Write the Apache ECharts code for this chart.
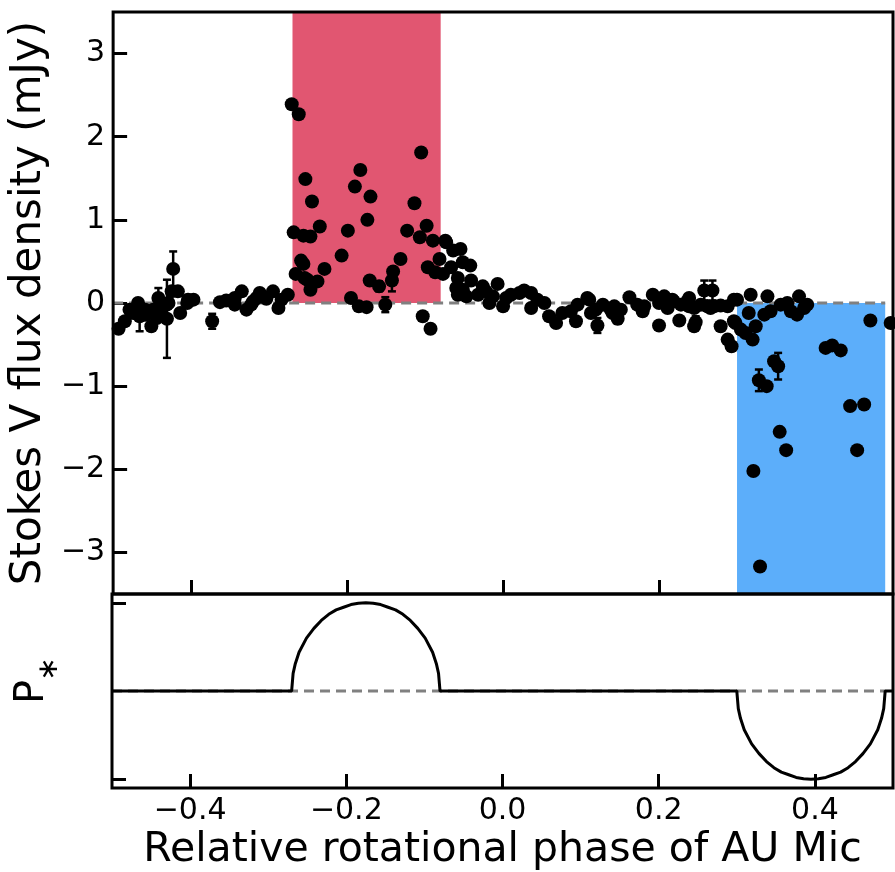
<!DOCTYPE html>
<html><head><meta charset="utf-8">
<script src="https://cdn.jsdelivr.net/npm/echarts@6/dist/echarts.min.js"></script>
<style>html,body{margin:0;padding:0;background:#fff}#c{width:895px;height:872px}</style>
</head><body><div id="c"></div>
<script>
// ---- data ----
const phase = [
 -0.493,-0.485,-0.479,-0.474,-0.472,-0.468,-0.466,-0.459,-0.459,-0.453,-0.451,-0.4485,-0.444,-0.442,-0.440,-0.440,
 -0.431,-0.431,-0.429,-0.425,-0.423,-0.417,-0.414,-0.405,-0.404,-0.397,-0.373,-0.363,-0.355,-0.344,-0.344,-0.335,
 -0.329,-0.3205,-0.323,-0.316,-0.312,-0.3035,-0.295,-0.288,-0.284,-0.276,
 -0.266,-0.271,-0.262,-0.2535,-0.245,-0.235,-0.2685,-0.256,-0.247,-0.259,-0.256,-0.2545,-0.251,-0.238,-0.229,-0.247,
 -0.207,-0.199,-0.183,-0.190,-0.170,-0.174,-0.195,-0.185,-0.175,-0.171,-0.159,
 -0.105,-0.1136,-0.123,-0.098,-0.1067,-0.090,-0.074,-0.1315,-0.0815,-0.0965,-0.087,-0.077,-0.141,-0.1425,-0.151,-0.103,-0.093,
 -0.073,-0.064,-0.0546,-0.0516,-0.042,-0.0666,-0.058,-0.041,-0.0516,-0.060,-0.058,-0.047,-0.032,-0.026,-0.022,-0.007,
 -0.013,-0.0175,0.000,0.010,0.004,0.021,0.027,0.036,0.036,0.044,0.053,0.059,0.068,0.076,0.087,0.0956,0.0935,
 0.108,0.1105,0.1127,0.119,0.121,0.128,0.138,0.1405,0.1426,0.147,0.151,0.162,0.172,0.179,0.181,0.192,0.200,0.200,
 0.2066,0.209,0.211,0.217,0.219,0.226,0.228,0.236,0.2386,0.2386,0.245,0.247,0.245,0.2535,0.258,0.2685,0.262,0.266,
 0.2706,0.279,0.279,0.288,0.288,0.293,0.296,0.296,0.298,0.300,
 0.305,0.311,0.320,0.3175,0.324,0.315,0.339,0.335,0.343,0.356,0.3645,0.369,0.377,0.3795,0.386,0.390,0.471,0.497,
 0.4136,0.422,0.433,0.3475,0.3527,0.328,0.338,0.445,0.463,0.3547,0.363,0.454,0.321,0.3295
];
const stokesV = [
 -0.31,-0.22,-0.08,-0.12,-0.10,0.00,-0.16,-0.08,-0.14,-0.12,-0.28,-0.08,-0.18,0.06,-0.08,-0.14,
 -0.19,-0.02,0.00,0.14,0.41,0.14,-0.12,0.00,0.04,0.04,-0.22,0.01,0.03,0.06,-0.02,0.14,
 -0.08,0.02,-0.02,0.06,0.12,0.05,0.14,-0.06,0.04,0.10,
 0.35,2.39,2.27,1.49,1.22,0.92,0.85,0.81,0.80,0.51,0.47,0.30,0.28,0.26,0.41,0.16,
 0.57,0.87,1.60,1.40,1.28,1.00,0.06,-0.04,-0.05,0.27,0.20,
 1.81,1.20,0.87,0.93,0.79,0.75,0.75,0.53,0.53,0.43,0.37,0.35,0.38,0.27,-0.02,-0.16,-0.31,
 0.73,0.63,0.65,0.49,0.45,0.43,0.30,0.27,0.16,0.18,0.10,0.08,0.10,0.20,0.14,0.23,
 0.08,0.00,-0.04,0.10,0.06,0.12,0.15,0.12,-0.06,0.04,0.00,-0.16,-0.24,-0.12,-0.10,-0.02,-0.22,
 0.06,0.04,-0.12,-0.08,-0.27,-0.02,-0.08,-0.12,-0.04,-0.19,-0.08,0.07,-0.02,-0.10,-0.04,0.10,-0.27,0.00,
 0.08,0.05,-0.06,0.04,0.02,-0.21,-0.02,0.02,0.06,-0.04,-0.06,-0.23,-0.28,-0.02,0.15,0.15,-0.04,-0.06,
 -0.04,-0.03,-0.28,-0.04,-0.44,-0.52,-0.22,0.04,-0.24,0.04,
 -0.32,-0.36,-0.44,0.10,-0.28,-0.12,0.08,-0.14,-0.10,-0.02,0.00,-0.10,-0.14,0.08,-0.06,-0.02,-0.21,-0.24,
 -0.54,-0.51,-0.57,-0.70,-0.76,-0.93,-1.00,-1.24,-1.22,-1.55,-1.77,-1.77,-2.02,-3.17
];
// visible error bars (phase, centre, half length)
const errPhase = [-0.466,-0.442,-0.431,-0.423,-0.373,-0.159,-0.1425,-0.151,0.121,0.147,0.2386,0.247,0.258,0.2685,0.3527,0.328];
const errV     = [-0.16, 0.06, -0.19, 0.41, -0.22, 0.20, 0.27, -0.02, -0.27, -0.19, -0.04, -0.23, 0.15, 0.15, -0.76, -0.93];
const errHalf  = [0.18, 0.12, 0.47, 0.21, 0.09, 0.06, 0.13, 0.09, 0.09, 0.06, 0.05, 0.07, 0.12, 0.12, 0.16, 0.13];
// shaded phase windows
const redSpan = [-0.27, -0.08];
const blueSpan = [0.30, 0.49];
// tick labels
const xTicks = [-0.4, -0.2, 0.0, 0.2, 0.4];
const yTicks = [-3, -2, -1, 0, 1, 2, 3];
const pTicks = [-1, 1];
// model P* curve
const modelPhase = [-0.5,-0.27,-0.2681,-0.2653,-0.2605,-0.251,-0.2415,-0.232,-0.2225,-0.213,-0.2035,-0.194,-0.1845,-0.175,
 -0.1655,-0.156,-0.1465,-0.137,-0.1275,-0.118,-0.1085,-0.099,-0.0895,-0.0847,-0.0819,-0.08,
 0.30,0.3019,0.3047,0.3095,0.319,0.3285,0.338,0.3475,0.357,0.3665,0.376,0.3855,0.395,
 0.4045,0.414,0.4235,0.433,0.4425,0.452,0.4615,0.471,0.4805,0.4853,0.4881,0.49,0.5];
const modelP = [0,0,0.20,0.31,0.44,0.60,0.71,0.80,0.87,0.92,0.95,0.98,0.995,1.0,
 0.995,0.98,0.95,0.92,0.87,0.80,0.71,0.60,0.44,0.31,0.20,0,
 0,-0.20,-0.31,-0.44,-0.60,-0.71,-0.80,-0.87,-0.92,-0.95,-0.98,-0.995,-1.0,
 -0.995,-0.98,-0.95,-0.92,-0.87,-0.80,-0.71,-0.60,-0.44,-0.31,-0.20,0,0];

// ---- chart ----
const FONT = 'DejaVu Sans';
const minus = s => String(s).replace('-', '\u2212');
const chart = echarts.init(document.getElementById('c'), null, {renderer: 'canvas'});
const tickStyle = {show: true, inside: true, length: 14, lineStyle: {color: '#000', width: 3}};
const noLine = {show: false, onZero: false};
const GL = 112, GW = 781;

const option = {
  animation: false,
  backgroundColor: '#fff',
  grid: [
    {left: GL, top: 12, width: GW, height: 582, show: true, borderColor: '#000', borderWidth: 3, z: 10},
    {left: GL, top: 594, width: GW, height: 195, show: true, borderColor: '#000', borderWidth: 3, z: 10}
  ],
  xAxis: [
    {gridIndex: 0, type: 'value', min: -0.5, max: 0.5, position: 'bottom', axisLine: noLine, splitLine: {show: false},
     axisTick: Object.assign({customValues: xTicks}, tickStyle), axisLabel: {show: false}},
    {gridIndex: 1, type: 'value', min: -0.5, max: 0.5, position: 'bottom', axisLine: noLine, splitLine: {show: false},
     axisTick: Object.assign({customValues: xTicks}, tickStyle),
     axisLabel: {show: true, customValues: xTicks, formatter: v => minus(v.toFixed(1)),
       fontSize: 30, color: '#000', fontFamily: FONT, margin: 8},
     name: 'Relative rotational phase of AU Mic', nameLocation: 'middle', nameGap: 42,
     nameTextStyle: {fontSize: 41, color: '#000', fontFamily: FONT}}
  ],
  yAxis: [
    {gridIndex: 0, type: 'value', min: -3.5, max: 3.5, position: 'left', axisLine: noLine, splitLine: {show: false},
     axisTick: Object.assign({customValues: yTicks}, tickStyle),
     axisLabel: {show: true, customValues: yTicks, formatter: v => minus(v),
       fontSize: 30, color: '#000', fontFamily: FONT, margin: 8},
     name: 'Stokes V flux density (mJy)', nameLocation: 'middle', nameGap: 52,
     nameTextStyle: {fontSize: 42, color: '#000', fontFamily: FONT}},
    {gridIndex: 1, type: 'value', min: -1.1, max: 1.1, position: 'left', axisLine: noLine, splitLine: {show: false},
     axisTick: Object.assign({customValues: pTicks}, tickStyle), axisLabel: {show: false}}
  ],
  graphic: [
    {type: 'text', x: 33, y: 692, rotation: Math.PI / 2,
     style: {text: 'P', font: '40px "DejaVu Sans"', fill: '#000', align: 'center', verticalAlign: 'middle'}},
    {type: 'text', x: 50, y: 669, rotation: Math.PI / 2,
     style: {text: '\u2217', font: '28px "DejaVu Sans"', fill: '#000', align: 'center', verticalAlign: 'middle'}}
  ],
  series: [
    {type: 'line', xAxisIndex: 0, yAxisIndex: 0, data: [], z: 1, silent: true,
     markArea: {silent: true, data: [
       [{xAxis: redSpan[0], yAxis: 0, itemStyle: {color: '#e15671'}}, {xAxis: redSpan[1], yAxis: 3.5}],
       [{xAxis: blueSpan[0], yAxis: -3.5, itemStyle: {color: '#5caefa'}}, {xAxis: blueSpan[1], yAxis: 0}]
     ]}},
    {type: 'line', xAxisIndex: 0, yAxisIndex: 0, data: [[-0.5, 0], [blueSpan[1], 0]], symbol: 'none', z: 2,
     lineStyle: {color: '#808080', width: 3, type: [10, 6]}, silent: true},
    {type: 'custom', xAxisIndex: 0, yAxisIndex: 0, z: 4, silent: true,
     data: errPhase.map((p, i) => [p, errV[i] - errHalf[i], errV[i] + errHalf[i]]),
     renderItem: (params, api) => {
       const lo = api.coord([api.value(0), api.value(1)]);
       const hi = api.coord([api.value(0), api.value(2)]);
       const c = 4;
       const st = {stroke: '#000', lineWidth: 2.5};
       return {type: 'group', children: [
         {type: 'line', shape: {x1: lo[0], y1: lo[1], x2: hi[0], y2: hi[1]}, style: st},
         {type: 'line', shape: {x1: lo[0] - c, y1: lo[1], x2: lo[0] + c, y2: lo[1]}, style: st},
         {type: 'line', shape: {x1: hi[0] - c, y1: hi[1], x2: hi[0] + c, y2: hi[1]}, style: st}
       ]};
     }},
    {type: 'scatter', xAxisIndex: 0, yAxisIndex: 0, z: 5, clip: false, symbolSize: 14,
     itemStyle: {color: '#000', opacity: 1}, silent: true,
     data: phase.map((p, i) => [p, stokesV[i]])},
    {type: 'line', xAxisIndex: 1, yAxisIndex: 1, data: [[-0.5, 0], [blueSpan[1], 0]], symbol: 'none', z: 2,
     lineStyle: {color: '#808080', width: 3, type: [10, 6]}, silent: true},
    {type: 'line', xAxisIndex: 1, yAxisIndex: 1, z: 3, symbol: 'none', silent: true,
     lineStyle: {color: '#000', width: 3},
     data: modelPhase.map((p, i) => [p, modelP[i]])}
  ]
};
chart.setOption(option);
</script>
</body></html>
